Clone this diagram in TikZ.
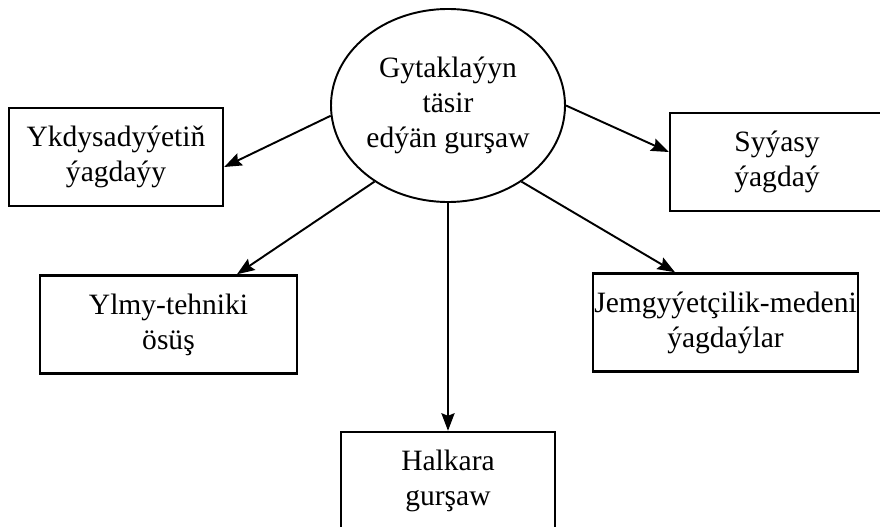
\documentclass[tikz,border=0pt]{standalone}
\usepackage{fontspec}
\setmainfont{Liberation Serif}
\usetikzlibrary{arrows.meta,shapes.geometric}
\begin{document}
\begin{tikzpicture}[box/.style={draw=black,line width=1.4pt,rectangle,inner sep=0pt,minimum width=\bw,minimum height=\bh,align=center,font=\fontsize{16.8}{20}\selectfont},
env/.style={draw=black,line width=1.1pt,ellipse,inner sep=0pt,minimum width=4.68cm,minimum height=3.86cm,align=center,font=\fontsize{16.8}{20}\selectfont},
arr/.style={line width=1.1pt,-{Stealth[length=10pt,width=7.5pt,inset=1.5pt]}}]
\def\bw{4.28cm};
\def\bh{1.96cm};
\useasboundingbox (0,0) rectangle (17.6,-10.54);
\fill[white] (0,0) rectangle (17.6,-10.54);
\node[env] (G) at (8.96,-2.11) {\raisebox{3pt}{\begin{tabular}{@{}c@{}}Gytaklaýyn\\täsir\\edýän gurşaw\end{tabular}}};
\node[box] (Y) at (2.32,-3.14) {Ykdysadyýetiň\\ýagdaýy};
\node[box] (S) at (15.54,-3.24) {Syýasy\\ýagdaý};
\node[box,minimum width=5.14cm] (T) at (3.37,-6.49) {Ylmy-tehniki\\ösüş};
\node[box,minimum width=5.3cm] (J) at (14.51,-6.45) {Jemgyýetçilik-medeni\\ýagdaýlar};
\node[box] (H) at (8.96,-9.62) {Halkara\\gurşaw};
\draw[arr] (G.185) -- ([yshift=-0.2cm]Y.east);
\draw[arr] (G.226) -- ([xshift=1.37cm]T.north);
\draw[arr] (G.south) -- (H.north);
\draw[arr] (G.314) -- ([xshift=-1.01cm]J.north);
\draw[arr] (G.east) -- ([yshift=0.2cm]S.west);
\end{tikzpicture}
\end{document}
